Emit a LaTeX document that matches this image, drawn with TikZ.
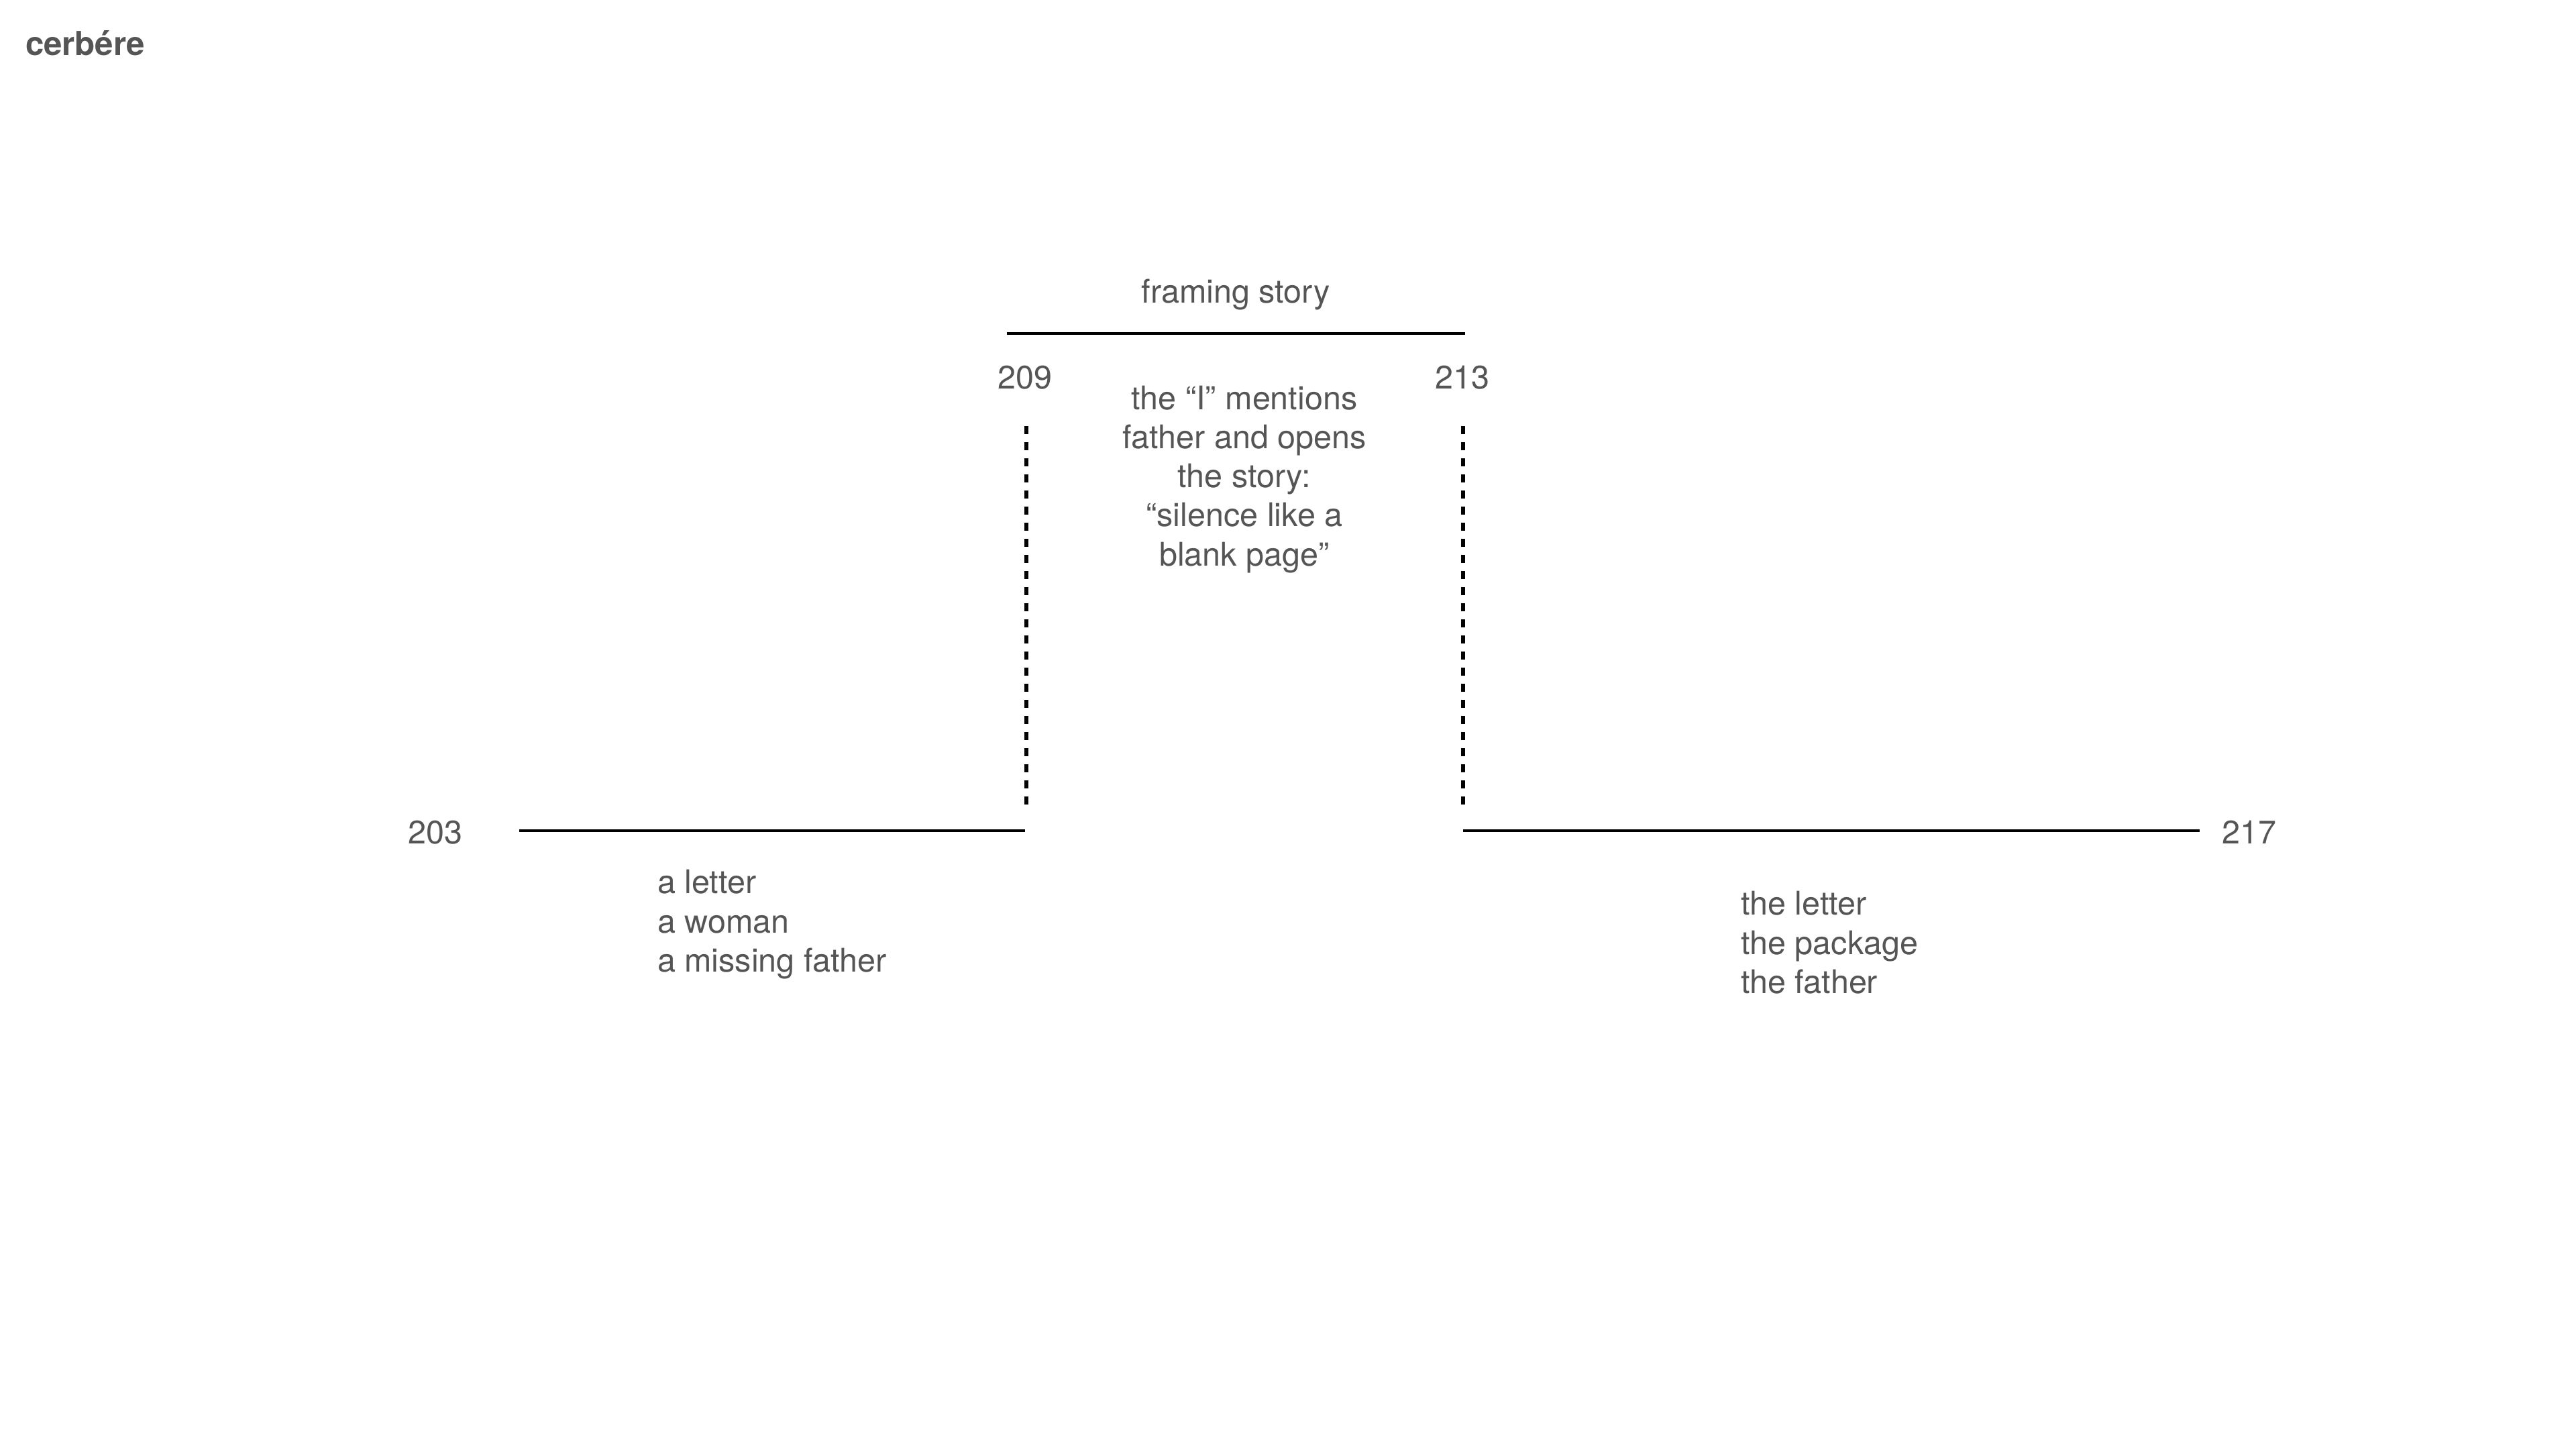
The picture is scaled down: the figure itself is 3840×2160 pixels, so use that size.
\documentclass[tikz,border=0pt]{standalone}
\usepackage{fontspec}
\setmainfont{TeX Gyre Heros}
\definecolor{txt}{RGB}{85,85,85}
\begin{document}
\begin{tikzpicture}[x=0.01cm,y=-0.01cm,
  lbl/.style={inner sep=0pt, outer sep=0pt, text=txt, font=\fontsize{13.8pt}{16.5pt}\selectfont, anchor=base},
  solidline/.style={line width=0.04cm, black},
  dashline/.style={line width=0.06cm, black, dash pattern=on 0.12cm off 0.12cm}]
\useasboundingbox (0,0) rectangle (3840,2160);
\fill[white] (0,0) rectangle (3840,2160);
% title
\node[lbl, anchor=base west, font=\fontsize{14pt}{17pt}\selectfont\bfseries] (brand) at (38,82) {cerbére};
% labels
\node[lbl] (frame) at (1842,451) {framing story};
\node[lbl] (n209) at (1528,579) {209};
\node[lbl] (n213) at (2180,579) {213};
\node[lbl] (n203) at (649,1257) {203};
\node[lbl] (n217) at (3353,1257) {217};
\node[lbl, align=center] (mid) at (1855,843) {the “I” mentions\\father and opens\\the story:\\“silence like a\\blank page”};
\node[lbl, anchor=base west, align=left] (left) at (980,1448) {a letter\\a woman\\a missing father};
\node[lbl, anchor=base west, align=left] (right) at (2595,1480) {the letter\\the package\\the father};
% coordinates
\coordinate (ft1) at (1501,497);
\coordinate (ft2) at (2184,497);
\coordinate (d1top) at (1530,635);
\coordinate (d1bot) at (1530,1199);
\coordinate (d2top) at (2181,635);
\coordinate (d2bot) at (2181,1199);
\coordinate (l1) at (774,1238);
\coordinate (l2) at (1528,1238);
\coordinate (r1) at (2181,1238);
\coordinate (r2) at (3279,1238);
% lines
\draw[solidline] (ft1) -- (ft2);
\draw[solidline] (l1) -- (l2);
\draw[solidline] (r1) -- (r2);
\draw[dashline] (d1top) -- (d1bot);
\draw[dashline] (d2top) -- (d2bot);
\end{tikzpicture}
\end{document}
